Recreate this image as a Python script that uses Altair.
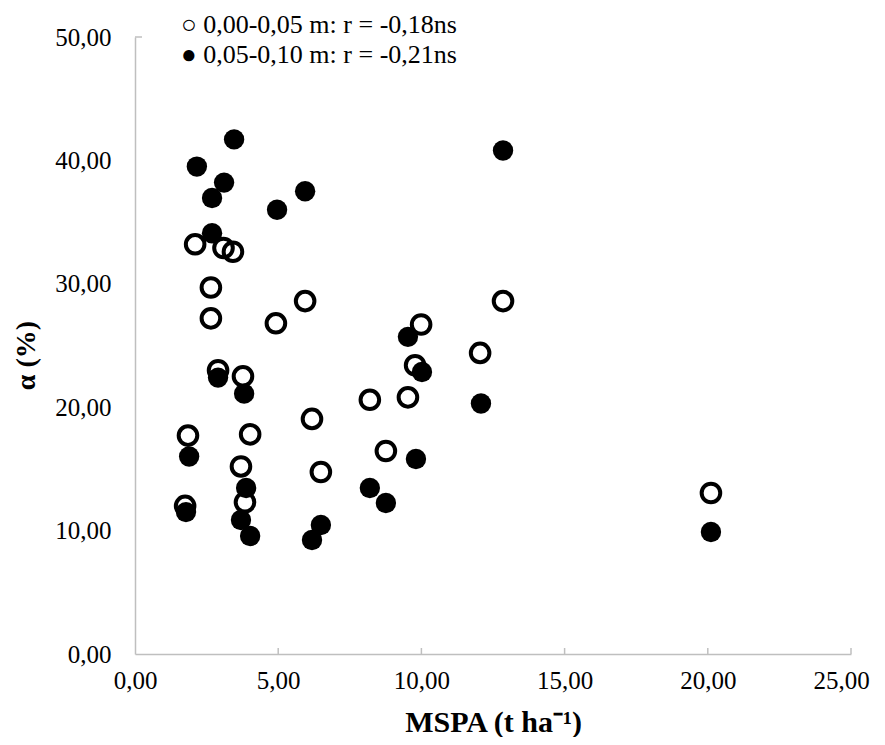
import altair as alt
import pandas as pd

# MSPA (t/ha) and alpha (%) for the two soil layers
x_open = [2.10, 3.09, 3.42, 2.65, 2.65, 2.90, 3.77, 1.85, 4.02, 3.70, 3.84, 1.75,
          5.94, 4.92, 12.85, 9.99, 9.78, 12.05, 8.20, 9.53, 6.18, 8.76, 6.49, 20.11]
y_open = [33.2, 32.9, 32.6, 29.7, 27.2, 23.0, 22.5, 17.7, 17.8, 15.2, 12.3, 12.0,
          28.6, 26.8, 28.6, 26.7, 23.4, 24.4, 20.6, 20.8, 19.05, 16.45, 14.75, 13.05]
x_fill = [3.46, 2.16, 3.11, 2.69, 5.94, 4.96, 2.69, 12.85, 2.90, 3.81, 1.89, 1.78,
          3.88, 3.70, 4.02, 6.18, 6.49, 8.20, 8.76, 9.53, 10.02, 12.08, 9.81, 20.11]
y_fill = [41.7, 39.5, 38.2, 36.95, 37.5, 36.0, 34.1, 40.8, 22.4, 21.1, 16.0, 11.5,
          13.45, 10.86, 9.56, 9.24, 10.45, 13.45, 12.24, 25.7, 22.85, 20.3, 15.8, 9.89]
x_ticks = [0, 5, 10, 15, 20, 25]
y_ticks = [0, 10, 20, 30, 40, 50]
legend_labels = ["○ 0,00-0,05 m: r = -0,18ns", "● 0,05-0,10 m: r = -0,21ns"]
x_title = "MSPA (t ha⁻¹)"
y_title = "α (%)"

W, H = 716, 617
FONT = "Liberation Serif"
AXIS_GRAY = "#bfbfbf"
fmt = "replace(format(datum.value, '.2f'), '.', ',')"

xaxis = alt.Axis(values=x_ticks, labelExpr=fmt, title=x_title, grid=False, ticks=False,
                 domainColor=AXIS_GRAY, domainWidth=1.5, labelFont=FONT, labelFontSize=25,
                 labelColor="black", labelPadding=14, labelFlush=False,
                 labelOffset={"condition": {"test": "datum.value == 25", "value": -10},
                              "value": 0},
                 titleFont=FONT, titleFontSize=30, titleFontWeight="bold", titleColor="black",
                 titleY=77, titleBaseline="alphabetic")
yaxis = alt.Axis(values=y_ticks, labelExpr=fmt, title=y_title, grid=False, ticks=False,
                 domainColor=AXIS_GRAY, domainWidth=1.5, labelFont=FONT, labelFontSize=25,
                 labelColor="black", labelPadding=24, labelFlush=False,
                 titleFont=FONT, titleFontSize=28, titleFontWeight="bold", titleColor="black",
                 titleAngle=270, titleX=-109, titleY=318, titleAlign="center",
                 titleBaseline="middle")

X = alt.X("x:Q", scale=alt.Scale(domain=[0, 25], nice=False), axis=xaxis)
Y = alt.Y("y:Q", scale=alt.Scale(domain=[0, 50], nice=False), axis=yaxis)

df_open = pd.DataFrame({"x": x_open, "y": y_open})
df_fill = pd.DataFrame({"x": x_fill, "y": y_fill})

open_pts = alt.Chart(df_open).mark_point(
    shape="circle", filled=False, stroke="black", strokeWidth=4, size=346, opacity=1
).encode(x=X, y=Y)

fill_pts = alt.Chart(df_fill).mark_circle(
    color="black", size=415, opacity=1
).encode(x=X, y=Y)

xt = alt.Chart(pd.DataFrame({"x": x_ticks[1:]})).mark_rule(
    color=AXIS_GRAY, strokeWidth=1.5
).encode(x=X, y=alt.value(H - 6), y2=alt.value(H))

yt = alt.Chart(pd.DataFrame({"y": [y_ticks[-1]]})).mark_rule(
    color=AXIS_GRAY, strokeWidth=1.5
).encode(y=Y, x=alt.value(0), x2=alt.value(7))

leg1 = alt.Chart(pd.DataFrame({"t": [legend_labels[0]]})).mark_text(
    align="left", baseline="middle", font=FONT, fontSize=26, color="black"
).encode(text="t:N", x=alt.value(46), y=alt.value(-12))
leg2 = alt.Chart(pd.DataFrame({"t": [legend_labels[1]]})).mark_text(
    align="left", baseline="middle", font=FONT, fontSize=26, color="black"
).encode(text="t:N", x=alt.value(46), y=alt.value(18))

chart = alt.layer(open_pts, fill_pts, xt, yt, leg1, leg2).properties(
    width=W, height=H,
    autosize=alt.AutoSizeParams(type="none"),
    padding={"left": 127, "top": 29, "right": 26, "bottom": 83},
    background="white",
).configure_view(stroke=None)

chart.save("out.html", embed_options={"renderer": "svg", "actions": False})
